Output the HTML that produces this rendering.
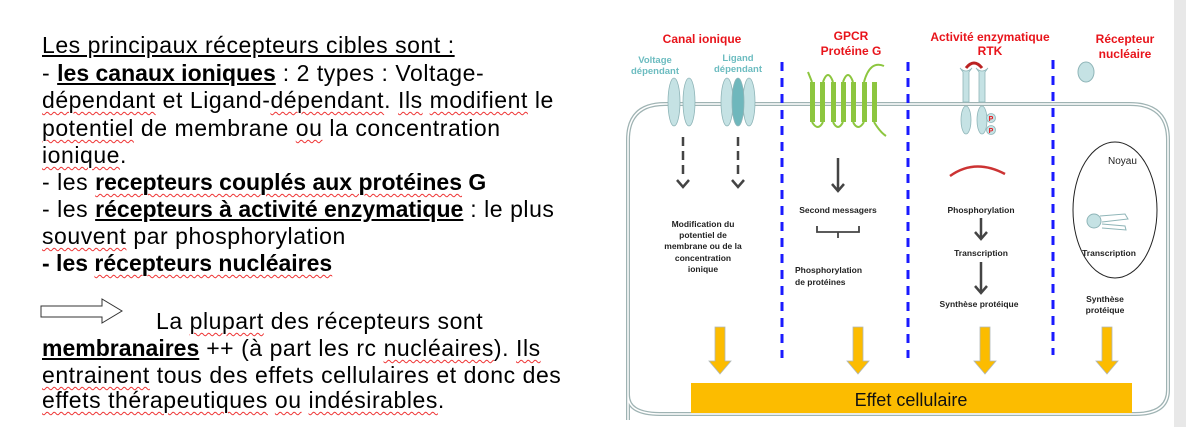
<!DOCTYPE html>
<html><head><meta charset="utf-8"><style>
body{margin:0;width:1186px;height:427px;background:#fff;overflow:hidden;position:relative;font-family:"Liberation Sans",sans-serif}
.l{position:absolute;left:42px;font-size:23px;letter-spacing:0.55px;line-height:26px;white-space:nowrap;color:#000}
.w{text-decoration:underline wavy #e33;text-decoration-thickness:1px;text-underline-offset:3px}
b{font-weight:bold;letter-spacing:0}
</style></head><body>
<div class="l" style="top:32px"><span style="text-decoration:underline">Les principaux récepteurs cibles sont :</span></div>
<div class="l" style="top:60px">- <b><span style="text-decoration:underline">les canaux ioniques</span></b> : 2 types : Voltage-</div>
<div class="l" style="top:87px"><span class="w">dépendant</span> et Ligand-<span class="w">dépendant</span>. <span class="w">Ils</span> <span class="w">modifient</span> le</div>
<div class="l" style="top:115px"><span class="w">potentiel</span> de membrane <span class="w">ou</span> la concentration</div>
<div class="l" style="top:142px"><span class="w">ionique</span>.</div>
<div class="l" style="top:169px">- les <b><span class="w">recepteurs couplés aux protéines</span> G</b></div>
<div class="l" style="top:196px">- les <b><span style="text-decoration:underline">récepteurs à activité enzymatique</span></b> : le plus</div>
<div class="l" style="top:223px"><span class="w">souvent</span> par phosphorylation</div>
<div class="l" style="top:250px"><b>- les <span class="w">récepteurs nucléaires</span></b></div>
<svg style="position:absolute;left:40px;top:298px" width="84" height="28"><polygon points="1,8 62,8 62,1 82,13 62,25 62,19 1,19" fill="#fff" stroke="#333" stroke-width="1"/></svg>
<div class="l" style="top:308px;left:156px">La <span class="w">plupart</span> des récepteurs sont</div>
<div class="l" style="top:335px"><b><span style="text-decoration:underline">membranaires</span></b> ++ (à part les rc <span class="w">nucléaires</span>). <span class="w">Ils</span></div>
<div class="l" style="top:362px"><span class="w">entrainent</span> tous des effets cellulaires et donc des</div>
<div class="l" style="top:387px"><span class="w">effets thérapeutiques</span> <span class="w">ou</span> <span class="w">indésirables</span>.</div>

<div style="position:absolute;left:1174px;top:0;width:12px;height:427px;background:#e8e8e8"></div>
<svg style="position:absolute;left:0;top:0" width="1186" height="427" font-family="Liberation Sans, sans-serif" font-weight="bold">
<path d="M628,420 L628,140 Q628,104 665,104 L1130,104 Q1168,104 1168,140 L1168,390 Q1168,414 1135,414 L660,414 Q628,414 628,395" fill="none" stroke="#9fb3b3" stroke-width="4"/>
<path d="M628,420 L628,140 Q628,104 665,104 L1130,104 Q1168,104 1168,140 L1168,390 Q1168,414 1135,414 L660,414 Q628,414 628,395" fill="none" stroke="#fff" stroke-width="1.5"/>
<g fill="#e8141b" font-size="12" text-anchor="middle">
<text x="702" y="43">Canal ionique</text>
<text x="851" y="40">GPCR</text><text x="851" y="55">Protéine G</text>
<text x="990" y="41">Activité enzymatique</text><text x="990" y="55">RTK</text>
<text x="1125" y="43">Récepteur</text><text x="1125" y="58">nucléaire</text>
</g>
<g fill="#6cbcc0" font-size="9.5" text-anchor="middle">
<text x="655" y="63">Voltage</text><text x="655" y="74">dépendant</text>
<text x="738" y="61">Ligand</text><text x="738" y="72">dépendant</text>
</g>
<g stroke="#8fb5b8" stroke-width="0.8">
<ellipse cx="674" cy="102" rx="6" ry="24" fill="#c5e2e4"/>
<ellipse cx="689" cy="102" rx="6" ry="24" fill="#c5e2e4"/>
<ellipse cx="727" cy="102" rx="6" ry="24" fill="#c5e2e4"/>
<ellipse cx="749" cy="102" rx="6" ry="24" fill="#c5e2e4"/>
<ellipse cx="738" cy="102" rx="6" ry="24" fill="#6fb7bc"/>
</g>
<g stroke="#1a1aff" stroke-width="3" stroke-dasharray="9,7">
<line x1="782" y1="62" x2="782" y2="358"/>
<line x1="908" y1="62" x2="908" y2="358"/>
<line x1="1053" y1="60" x2="1053" y2="355"/>
</g>
<g fill="#8dc63f"><rect x="810" y="82" width="5" height="40"/><rect x="820" y="82" width="5" height="40"/><rect x="831" y="82" width="5" height="40"/><rect x="841" y="82" width="5" height="40"/><rect x="851" y="82" width="5" height="40"/><rect x="862" y="82" width="5" height="40"/><rect x="872" y="82" width="5" height="40"/></g>
<path d="M808,72 L812,82 M812,122 Q818,132 823,122 M823,82 Q828,68 833,82 M833,122 Q838,132 843,122 M843,82 Q848,68 853,82 M853,122 Q858,132 864,122 M864,82 Q870,60 884,66 M874,122 Q880,132 886,136" fill="none" stroke="#8dc63f" stroke-width="2"/>
<g fill="#c5e2e4" stroke="#8fb5b8" stroke-width="0.8">
<path d="M960,68 Q966,74 972,68 L969,72 L969,102 L963,102 L963,72 Z"/>
<path d="M976,68 Q982,74 988,68 L985,72 L985,102 L979,102 L979,72 Z"/>
<ellipse cx="966" cy="120" rx="5" ry="14"/><ellipse cx="982" cy="120" rx="5" ry="14"/>
<circle cx="991" cy="118" r="4.5"/><circle cx="991" cy="130" r="4.5"/>
</g>
<path d="M966,68 Q974,58 982,68" fill="none" stroke="#b22" stroke-width="3"/>
<g fill="#e8141b" font-size="7" text-anchor="middle"><text x="991" y="121">P</text><text x="991" y="133">P</text></g>
<path d="M950,176 Q975,158 1005,174" fill="none" stroke="#c33" stroke-width="2.5"/>
<ellipse cx="1086" cy="72" rx="8" ry="10" fill="#c5e2e4" stroke="#8fb5b8"/>
<ellipse cx="1115" cy="210" rx="42" ry="68" fill="none" stroke="#222" stroke-width="1"/>
<circle cx="1094" cy="221" r="7" fill="#c5e2e4" stroke="#8fb5b8"/>
<path d="M1100,216 L1125,214 L1128,219 L1102,222 M1102,224 L1125,226 L1126,230 L1102,228" fill="none" stroke="#8fb5b8"/>
<text x="1108" y="164" font-weight="normal" font-size="10" fill="#222">Noyau</text>
<g stroke="#444" stroke-width="2.5" fill="none">
<line x1="683" y1="137" x2="683" y2="178" stroke-dasharray="9,5"/>
<line x1="738" y1="137" x2="738" y2="178" stroke-dasharray="9,5"/>
<path d="M677,180 L683,187 L689,180 M732,180 L738,187 L744,180"/>
<line x1="838" y1="158" x2="838" y2="190"/><path d="M832,184 L838,191 L844,184"/>
<line x1="981" y1="218" x2="981" y2="238"/><path d="M975,232 L981,239 L987,232"/>
<line x1="981" y1="262" x2="981" y2="292"/><path d="M975,286 L981,293 L987,286"/>
<path d="M817,226 L817,232 L859,232 L859,226 M838,232 L838,238" stroke-width="1.8"/>
</g>
<g fill="#222" font-size="8.5" text-anchor="middle">
<text x="703" y="227">Modification du</text><text x="703" y="238">potentiel de</text><text x="703" y="249">membrane ou de la</text><text x="703" y="261">concentration</text><text x="703" y="272">ionique</text>
<text x="838" y="213">Second messagers</text>
<text x="981" y="213">Phosphorylation</text>
<text x="981" y="256">Transcription</text>
<text x="979" y="307">Synthèse protéique</text>
<text x="1109" y="256">Transcription</text>
<text x="1105" y="302">Synthèse</text><text x="1105" y="313">protéique</text>
</g>
<g fill="#222" font-size="8.5"><text x="795" y="273">Phosphorylation</text><text x="795" y="285">de protéines</text></g>
<g fill="#fcbc00" stroke="#b0b8b8" stroke-width="0.8">
<polygon points="715,327 725,327 725,361 731,361 720,374 709,361 715,361"/>
<polygon points="853,327 863,327 863,361 869,361 858,374 847,361 853,361"/>
<polygon points="980,327 990,327 990,361 996,361 985,374 974,361 980,361"/>
<polygon points="1102,327 1112,327 1112,361 1118,361 1107,374 1096,361 1102,361"/>
</g>
<rect x="691" y="383" width="441" height="30" fill="#fcbc00"/>
<text x="911" y="406" font-weight="normal" font-size="18" text-anchor="middle" fill="#111">Effet cellulaire</text>
</svg>
</body></html>
